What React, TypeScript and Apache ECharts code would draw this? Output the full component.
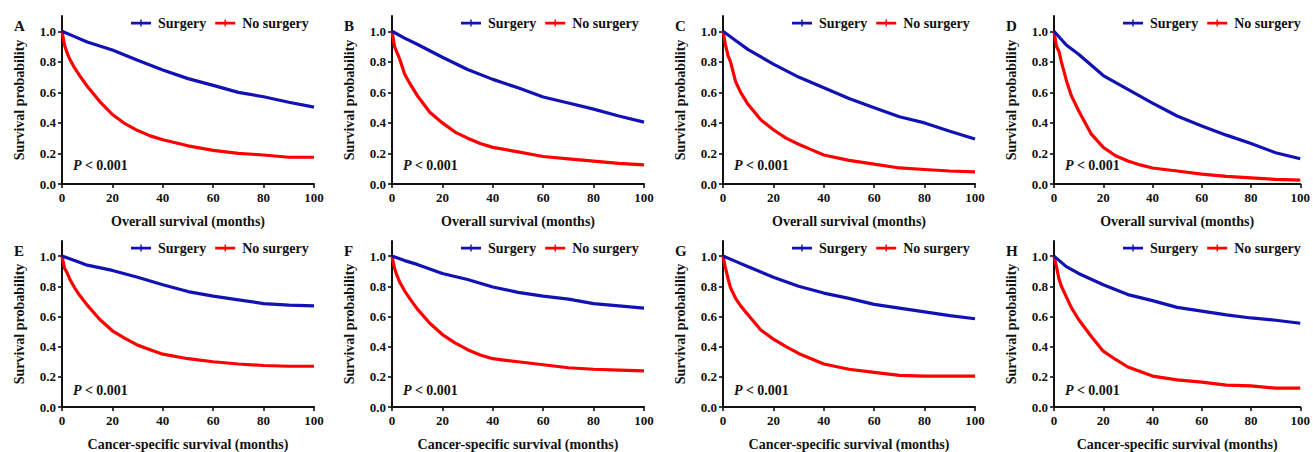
import React, { useEffect, useRef } from "react";
import * as echarts from "echarts";

const panelLetters = ["A", "B", "C", "D", "E", "F", "G", "H"];
const xAxisNames = [
  "Overall survival (months)",
  "Overall survival (months)",
  "Overall survival (months)",
  "Overall survival (months)",
  "Cancer-specific survival (months)",
  "Cancer-specific survival (months)",
  "Cancer-specific survival (months)",
  "Cancer-specific survival (months)",
];
const yTickValues = [0, 0.2, 0.4, 0.6, 0.8, 1.0];
const pValueText = "< 0.001";

const surgeryTimes = [0, 5, 10, 20, 30, 40, 50, 60, 70, 80, 90, 100];
const noSurgeryTimes = [0, 1, 2, 3, 5, 7, 10, 15, 20, 25, 30, 35, 40, 50, 60, 70, 80, 90, 100];

const surgeryA = [1, 0.965, 0.93, 0.877, 0.81, 0.747, 0.69, 0.646, 0.6, 0.571, 0.535, 0.503];
const surgeryB = [1, 0.955, 0.915, 0.83, 0.75, 0.685, 0.63, 0.57, 0.53, 0.49, 0.445, 0.405];
const surgeryC = [1, 0.94, 0.88, 0.785, 0.7, 0.63, 0.56, 0.5, 0.44, 0.4, 0.345, 0.295];
const surgeryD = [1, 0.91, 0.85, 0.71, 0.62, 0.53, 0.445, 0.38, 0.32, 0.265, 0.205, 0.165];
const surgeryE = [1, 0.97, 0.94, 0.905, 0.86, 0.81, 0.765, 0.735, 0.71, 0.685, 0.675, 0.67];
const surgeryF = [1, 0.97, 0.945, 0.885, 0.845, 0.795, 0.76, 0.735, 0.715, 0.685, 0.67, 0.655];
const surgeryG = [1, 0.965, 0.93, 0.86, 0.8, 0.755, 0.72, 0.68, 0.655, 0.63, 0.605, 0.585];
const surgeryH = [1, 0.93, 0.885, 0.81, 0.745, 0.705, 0.66, 0.635, 0.61, 0.59, 0.575, 0.555];

const noSurgeryA = [1, 0.91, 0.86, 0.82, 0.76, 0.71, 0.64, 0.54, 0.455, 0.395, 0.35, 0.315, 0.29, 0.25, 0.22, 0.2, 0.19, 0.175, 0.175];
const noSurgeryB = [1, 0.9, 0.86, 0.82, 0.72, 0.66, 0.58, 0.47, 0.4, 0.34, 0.3, 0.265, 0.24, 0.21, 0.18, 0.165, 0.15, 0.135, 0.125];
const noSurgeryC = [1, 0.91, 0.84, 0.8, 0.67, 0.6, 0.52, 0.42, 0.355, 0.3, 0.26, 0.225, 0.19, 0.155, 0.13, 0.105, 0.095, 0.085, 0.08];
const noSurgeryD = [1, 0.9, 0.87, 0.8, 0.68, 0.58, 0.48, 0.33, 0.24, 0.185, 0.15, 0.125, 0.105, 0.085, 0.065, 0.05, 0.04, 0.03, 0.025];
const noSurgeryE = [1, 0.92, 0.89, 0.85, 0.79, 0.74, 0.675, 0.58, 0.505, 0.455, 0.41, 0.38, 0.35, 0.32, 0.3, 0.285, 0.275, 0.27, 0.27];
const noSurgeryF = [1, 0.92, 0.87, 0.83, 0.77, 0.72, 0.65, 0.555, 0.48, 0.425, 0.38, 0.345, 0.32, 0.3, 0.28, 0.26, 0.25, 0.245, 0.24];
const noSurgeryG = [1, 0.92, 0.85, 0.79, 0.72, 0.67, 0.61, 0.51, 0.45, 0.4, 0.355, 0.32, 0.285, 0.25, 0.23, 0.21, 0.205, 0.205, 0.205];
const noSurgeryH = [1, 0.93, 0.85, 0.8, 0.73, 0.66, 0.58, 0.47, 0.37, 0.315, 0.265, 0.235, 0.205, 0.18, 0.165, 0.145, 0.14, 0.125, 0.125];

const surgerySeries = [surgeryA, surgeryB, surgeryC, surgeryD, surgeryE, surgeryF, surgeryG, surgeryH];
const noSurgerySeries = [noSurgeryA, noSurgeryB, noSurgeryC, noSurgeryD, noSurgeryE, noSurgeryF, noSurgeryG, noSurgeryH];

const FONT = "'Liberation Serif', 'Times New Roman', serif";
const BLUE = "#1212b4";
const RED = "#ff0000";
const COL_LEFT = [62, 392, 723, 1054];
const ROW_TOP = [16, 241];
const GRID_W = 252;
const GRID_H = 168;

const legendIcon = "path://M0,2.8 L20,2.8 L20,5.4 L0,5.4 Z M9.3,0.5 L10.7,0.5 L10.7,7.5 L9.3,7.5 Z";

function buildOption() {
  const grid: any[] = [];
  const xAxis: any[] = [];
  const yAxis: any[] = [];
  const series: any[] = [];
  const legend: any[] = [];
  const graphic: any[] = [];

  for (let i = 0; i < 8; i++) {
    const col = i % 4;
    const row = Math.floor(i / 4);
    const left = COL_LEFT[col];
    const top = ROW_TOP[row];
    grid.push({ left, top, width: GRID_W, height: GRID_H, containLabel: false });
    xAxis.push({
      type: "value",
      gridIndex: i,
      min: 0,
      max: 100,
      interval: 20,
      name: xAxisNames[i],
      nameLocation: "middle",
      nameGap: 30,
      nameTextStyle: { fontFamily: FONT, fontWeight: "bold", fontSize: 14, color: "#111" },
      axisLine: { lineStyle: { color: "#111", width: 2 } },
      axisTick: { length: 4, lineStyle: { color: "#111", width: 1.6 } },
      axisLabel: { fontFamily: FONT, fontWeight: "bold", fontSize: 13, color: "#111", margin: 7 },
      splitLine: { show: false },
    });
    yAxis.push({
      type: "value",
      gridIndex: i,
      min: 0,
      max: 1.1,
      interval: 0.2,
      name: "Survival probability",
      nameLocation: "middle",
      nameGap: 36,
      nameTextStyle: { fontFamily: FONT, fontWeight: "bold", fontSize: 14, color: "#111" },
      axisLine: { show: true, lineStyle: { color: "#111", width: 2 } },
      axisTick: { show: true, length: 4, lineStyle: { color: "#111", width: 1.6 }, customValues: yTickValues },
      axisLabel: {
        fontFamily: FONT,
        fontWeight: "bold",
        fontSize: 13,
        color: "#111",
        margin: 6,
        customValues: yTickValues,
        formatter: (v: number) => v.toFixed(1),
      },
      splitLine: { show: false },
    });
    series.push({
      type: "line",
      name: "Surgery",
      xAxisIndex: i,
      yAxisIndex: i,
      data: surgeryTimes.map((t, k) => [t, surgerySeries[i][k]]),
      showSymbol: false,
      symbol: legendIcon,
      lineStyle: { color: BLUE, width: 3.2 },
      itemStyle: { color: BLUE },
      z: 3,
    });
    series.push({
      type: "line",
      name: "No surgery",
      xAxisIndex: i,
      yAxisIndex: i,
      data: noSurgeryTimes.map((t, k) => [t, noSurgerySeries[i][k]]),
      showSymbol: false,
      symbol: legendIcon,
      lineStyle: { color: RED, width: 3.2 },
      itemStyle: { color: RED },
      z: 2,
    });
    legend.push({
      left: left + 69,
      top: top + 0,
      padding: 0,
      itemWidth: 20,
      itemHeight: 8,
      itemGap: 9,
      orient: "horizontal",
      data: [
        { name: "Surgery", icon: legendIcon },
        { name: "No surgery", icon: legendIcon },
      ],
      textStyle: { fontFamily: FONT, fontWeight: "bold", fontSize: 14, color: "#111", padding: [0, 0, 0, 2] },
      selectedMode: false,
    });
    graphic.push({
      type: "text",
      left: left - 48,
      top: top + 2,
      style: { text: panelLetters[i], fontFamily: FONT, fontWeight: "bold", fontSize: 15, fill: "#111" },
    });
    graphic.push({
      type: "text",
      left: left + 11,
      top: top + GRID_H - 26,
      style: {
        text: "{p|P} {n|" + pValueText + "}",
        rich: {
          p: { fontFamily: FONT, fontWeight: "bold", fontStyle: "italic", fontSize: 14, fill: "#111" },
          n: { fontFamily: FONT, fontWeight: "bold", fontSize: 14, fill: "#111" },
        },
      },
    });
  }

  return {
    animation: false,
    backgroundColor: "#ffffff",
    textStyle: { fontFamily: FONT },
    grid,
    xAxis,
    yAxis,
    series,
    legend,
    graphic,
  };
}

export default function App() {
  const ref = useRef<HTMLDivElement>(null);
  useEffect(() => {
    if (!ref.current) return;
    const chart = echarts.init(ref.current, null, { renderer: "svg" });
    chart.setOption(buildOption() as any);
    return () => chart.dispose();
  }, []);
  return (
    <div
      ref={ref}
      style={{ position: "absolute", left: 0, top: 0, width: 1313, height: 452, background: "#fff" }}
    />
  );
}
